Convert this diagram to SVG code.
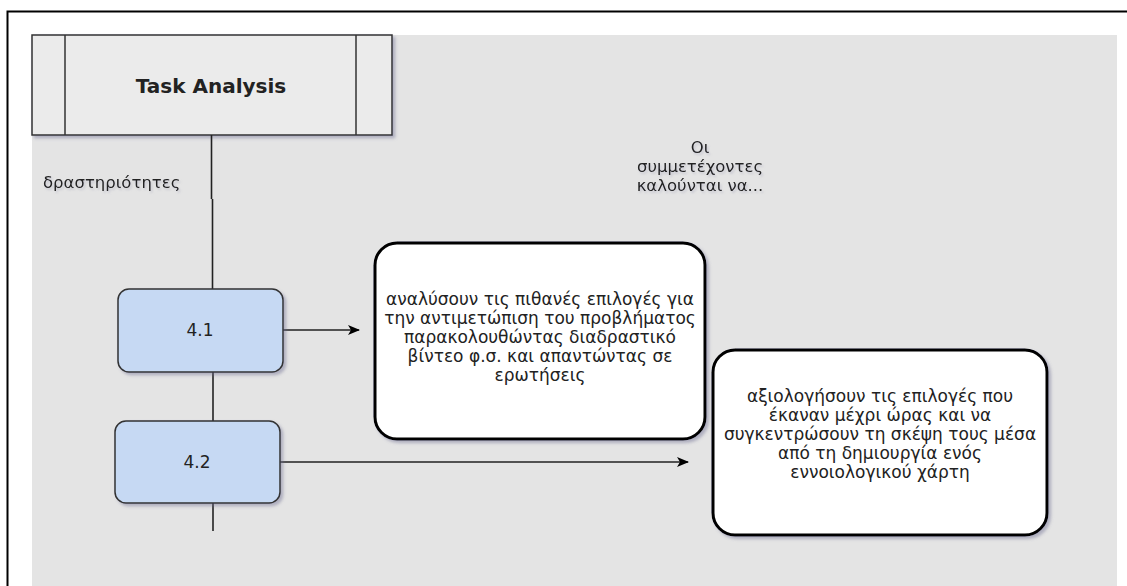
<svg xmlns="http://www.w3.org/2000/svg" width="1127" height="586" viewBox="0 0 1127 586">
  <defs>
    <filter id="shadow" x="-10%" y="-10%" width="130%" height="130%">
      <feDropShadow dx="2.5" dy="2.5" stdDeviation="1.5" flood-color="#6a6a90" flood-opacity="0.45"/>
    </filter>
    <filter id="textShadow" x="-5%" y="-20%" width="110%" height="160%">
      <feDropShadow dx="1.5" dy="2" stdDeviation="1.2" flood-color="#8a8aa8" flood-opacity="0.35"/>
    </filter>
    <marker id="arrow" viewBox="0 0 12 12" refX="11" refY="6" markerWidth="12" markerHeight="12" markerUnits="userSpaceOnUse" orient="auto">
      <path d="M0,1 L12,6 L0,11 L3,6 Z" fill="#000"/>
    </marker>
  </defs>
  <style>
    .txt { font-family: "DejaVu Sans", "Liberation Sans", sans-serif; fill: #222; }
    .body { font-size: 17px; text-anchor: middle; }
    .label { font-size: 16.5px; text-anchor: middle; }
    .step { fill: #c6d9f3; stroke: #333; stroke-width: 1.5; filter: url(#shadow); }
    .note { fill: #fff; stroke: #000; stroke-width: 3; filter: url(#shadow); }
    .wire { stroke: #222; stroke-width: 1.6; fill: none; }
  </style>

  <!-- page frame and canvas -->
  <rect width="1127" height="586" fill="#fff"/>
  <path d="M7.5,586 V11.5 H1127" fill="none" stroke="#000" stroke-width="2"/>
  <rect x="32" y="35" width="1085" height="551" fill="#e4e4e4"/>

  <!-- header process box -->
  <g id="task-analysis">
    <rect x="32" y="35" width="360" height="100" fill="#ebebeb" stroke="#333" stroke-width="1.5" filter="url(#shadow)"/>
    <line x1="65" y1="35" x2="65" y2="135" stroke="#333" stroke-width="1.5"/>
    <line x1="356" y1="35" x2="356" y2="135" stroke="#333" stroke-width="1.5"/>
    <text class="txt" x="211" y="93" font-size="20" font-weight="bold" text-anchor="middle">Task Analysis</text>
  </g>

  <!-- connectors -->
  <g id="connectors">
    <line class="wire" x1="211.5" y1="135" x2="211.5" y2="199" stroke="#000"/>
    <line class="wire" x1="212.5" y1="199" x2="212.5" y2="289"/>
    <line class="wire" x1="213" y1="372" x2="213" y2="421"/>
    <line class="wire" x1="213" y1="503" x2="213" y2="531"/>
    <line class="wire" x1="283" y1="330" x2="359" y2="330" marker-end="url(#arrow)"/>
    <line class="wire" x1="280" y1="462" x2="688" y2="462" marker-end="url(#arrow)"/>
  </g>

  <!-- side labels -->
  <g id="label-activities" filter="url(#textShadow)">
    <text class="txt" x="43" y="188" font-size="16.5">δραστηριότητες</text>
  </g>
  <g id="label-participants" filter="url(#textShadow)">
    <text class="txt label" x="700" y="153">Οι</text>
    <text class="txt label" x="700" y="172">συμμετέχοντες</text>
    <text class="txt label" x="700" y="191">καλούνται να...</text>
  </g>

  <!-- activity steps -->
  <g id="step-4-1">
    <rect class="step" x="118" y="289" width="165" height="83" rx="11"/>
    <text class="txt body" x="200" y="336">4.1</text>
  </g>
  <g id="step-4-2">
    <rect class="step" x="115" y="421" width="165" height="82" rx="11"/>
    <text class="txt body" x="197" y="468">4.2</text>
  </g>

  <!-- activity descriptions -->
  <g id="note-4-1">
    <rect class="note" x="375" y="243" width="330" height="196" rx="22"/>
    <text class="txt body" x="540" y="305">αναλύσουν τις πιθανές επιλογές για</text>
    <text class="txt body" x="540" y="324">την αντιμετώπιση του προβλήματος</text>
    <text class="txt body" x="540" y="343">παρακολουθώντας διαδραστικό</text>
    <text class="txt body" x="540" y="362">βίντεο φ.σ. και απαντώντας σε</text>
    <text class="txt body" x="540" y="381">ερωτήσεις</text>
  </g>
  <g id="note-4-2">
    <rect class="note" x="713" y="350" width="334" height="185" rx="22"/>
    <text class="txt body" x="880" y="402">αξιολογήσουν τις επιλογές που</text>
    <text class="txt body" x="880" y="421">έκαναν μέχρι ώρας και να</text>
    <text class="txt body" x="880" y="440">συγκεντρώσουν τη σκέψη τους μέσα</text>
    <text class="txt body" x="880" y="459">από τη δημιουργία ενός</text>
    <text class="txt body" x="880" y="478">εννοιολογικού χάρτη</text>
  </g>
</svg>
